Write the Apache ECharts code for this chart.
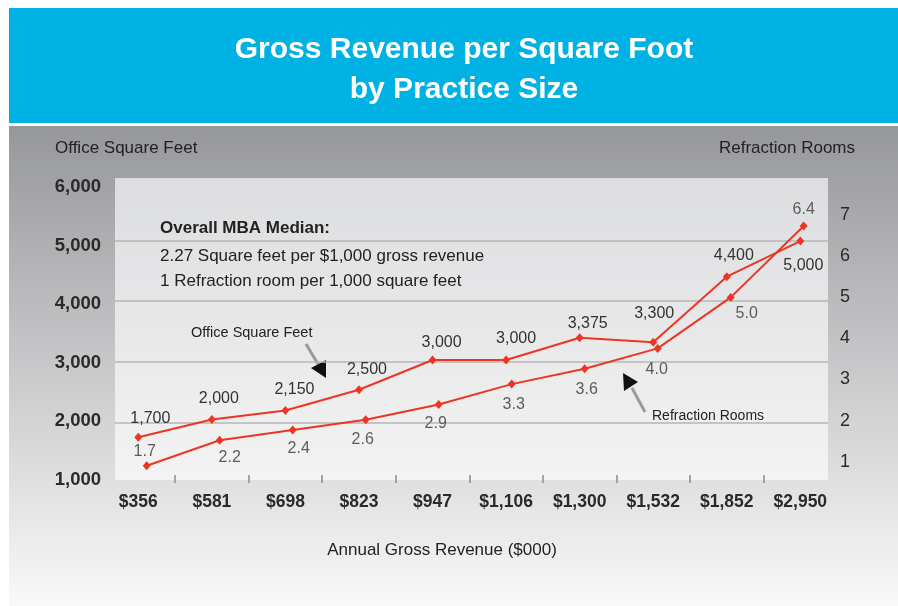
<!DOCTYPE html>
<html><head><meta charset="utf-8">
<script src="https://cdn.jsdelivr.net/npm/echarts@6/dist/echarts.min.js"></script>
<style>html,body{margin:0;padding:0;background:#fff}#c{width:898px;height:606px}</style>
</head><body><div id="c"></div>
<script>
// ---- data ----
const categories = ['$356', '$581', '$698', '$823', '$947', '$1,106', '$1,300', '$1,532', '$1,852', '$2,950'];
const officeSqFt = [1700, 2000, 2150, 2500, 3000, 3000, 3375, 3300, 4400, 5000];
const refractionRooms = [1.7, 2.2, 2.4, 2.6, 2.9, 3.3, 3.6, 4.0, 5.0, 6.4];
const leftTicks = [1000, 2000, 3000, 4000, 5000, 6000];
const rightTicks = [1, 2, 3, 4, 5, 6, 7];

// ---- label placement (style only) ----
const officeLabelPlace = [
  {p:'top',o:[12,4]},{p:'top',o:[7,2]},{p:'top',o:[9,2]},{p:'top',o:[8,2]},{p:'top',o:[9,5]},
  {p:'top',o:[10,1]},{p:'top',o:[8,8]},{p:'top',o:[1,-6]},{p:'top',o:[7,1]},{p:'bottom',o:[3,2]}
];
const roomLabelPlace = [
  {p:'top',o:[-2,6]},{p:'bottom',o:[10,-3]},{p:'bottom',o:[6,-2]},{p:'bottom',o:[-3,-1]},{p:'bottom',o:[-3,-1]},
  {p:'bottom',o:[2,0]},{p:'bottom',o:[2,0]},{p:'bottom',o:[-1,1]},{p:'bottom',o:[16,-4]},{p:'top',o:[0,4]}
];

const FONT = '"Liberation Sans", Arial, sans-serif';
const RED = '#EE3524';

const chart = echarts.init(document.getElementById('c'), null, {renderer: 'canvas'});
const G = echarts.graphic;

function buildData(values, place, color) {
  return values.map((v, i) => ({
    value: [i, v],
    label: {position: place[i].p, offset: place[i].o, color: color}
  }));
}

const option = {
  animation: false,
  backgroundColor: '#ffffff',
  title: {
    text: 'Gross Revenue per Square Foot\nby Practice Size',
    left: 459, top: 25, textAlign: 'center',
    textStyle: {color: '#ffffff', fontFamily: FONT, fontWeight: 'bold', fontSize: 30, lineHeight: 40}
  },
  graphic: [
    {type: 'rect', z: -30, silent: true, shape: {x: 9, y: 8, width: 889, height: 115}, style: {fill: '#00B2E4'}},
    {type: 'rect', z: -30, silent: true, shape: {x: 9, y: 126, width: 889, height: 480},
      style: {fill: new G.LinearGradient(0, 0, 0, 1, [{offset: 0, color: '#96979a'}, {offset: 1, color: '#f9f9f9'}])}},
    {type: 'rect', z: -20, silent: true, shape: {x: 115, y: 178, width: 713, height: 302},
      style: {fill: new G.LinearGradient(0, 0, 0, 1, [{offset: 0, color: '#dcdddf'}, {offset: 1, color: '#f3f3f3'}])}},
    {type: 'text', silent: true, style: {text: 'Office Square Feet', x: 55, y: 148, font: '17px ' + FONT, fill: '#222', align: 'left', verticalAlign: 'middle'}},
    {type: 'text', silent: true, style: {text: 'Refraction Rooms', x: 855, y: 148, font: '17px ' + FONT, fill: '#222', align: 'right', verticalAlign: 'middle'}},
    {type: 'text', silent: true, style: {text: 'Annual Gross Revenue ($000)', x: 442, y: 550, font: '17px ' + FONT, fill: '#222', align: 'center', verticalAlign: 'middle'}},
    {type: 'text', silent: true, style: {text: 'Overall MBA Median:', x: 160, y: 228, font: 'bold 17px ' + FONT, fill: '#222', align: 'left', verticalAlign: 'middle'}},
    {type: 'text', silent: true, style: {text: '2.27 Square feet per $1,000 gross revenue', x: 160, y: 256, font: '17px ' + FONT, fill: '#222', align: 'left', verticalAlign: 'middle'}},
    {type: 'text', silent: true, style: {text: '1 Refraction room per 1,000 square feet', x: 160, y: 281, font: '17px ' + FONT, fill: '#222', align: 'left', verticalAlign: 'middle'}},
    {type: 'text', silent: true, style: {text: 'Office Square Feet', x: 191, y: 333, font: '14.5px ' + FONT, fill: '#222', align: 'left', verticalAlign: 'middle'}},
    {type: 'text', silent: true, style: {text: 'Refraction Rooms', x: 652, y: 416, font: '14px ' + FONT, fill: '#222', align: 'left', verticalAlign: 'middle'}},
    // arrow for Office Square Feet
    {type: 'line', silent: true, shape: {x1: 306, y1: 344, x2: 318, y2: 364}, style: {stroke: '#9a9a9a', lineWidth: 3}},
    {type: 'polygon', silent: true, shape: {points: [[326, 378], [311, 368], [326, 360]]}, style: {fill: '#111'}},
    // arrow for Refraction Rooms
    {type: 'line', silent: true, shape: {x1: 645, y1: 412, x2: 632, y2: 388}, style: {stroke: '#9a9a9a', lineWidth: 3}},
    {type: 'polygon', silent: true, shape: {points: [[623, 373], [638, 382], [624, 391]]}, style: {fill: '#111'}}
  ],
  grid: {left: 115, right: 70, top: 180, bottom: 123, containLabel: false},
  xAxis: [
    {
      type: 'value', gridIndex: 0, min: -0.317, max: 9.376,
      axisLine: {show: false},
      splitLine: {show: false},
      axisTick: {show: true, inside: true, length: 8, lineStyle: {color: '#8c8c8c', width: 1.5},
        customValues: categories.slice(1).map((_, i) => i + 0.5)},
      axisLabel: {customValues: categories.map((_, i) => i), formatter: v => categories[Math.round(v)],
        margin: 10, fontFamily: FONT, fontWeight: 'bold', fontSize: 17.5, color: '#2a2a2a'}
    },
    {type: 'value', gridIndex: 0, min: -0.434, max: 9.333, show: false}
  ],
  yAxis: [
    { // gridline axis
      type: 'value', gridIndex: 0, position: 'left', min: leftTicks[0], max: leftTicks[leftTicks.length - 1], interval: 1000,
      axisLine: {show: false}, axisTick: {show: false}, axisLabel: {show: false},
      splitLine: {show: true, showMinLine: false, showMaxLine: false, lineStyle: {color: '#b6b6b6', width: 1.5}}
    },
    { // right labels
      type: 'value', gridIndex: 0, position: 'right', min: 0.482, max: 7.851,
      axisLine: {show: false}, axisTick: {show: false}, splitLine: {show: false},
      axisLabel: {customValues: rightTicks, formatter: v => String(v), margin: 12,
        fontFamily: FONT, fontSize: 18, color: '#2a2a2a'}
    },
    {type: 'value', gridIndex: 0, position: 'right', min: 1.361, max: 7.302, show: false},
    {type: 'value', gridIndex: 0, position: 'left', min: 932, max: 6026, show: false},
    { // left labels
      type: 'value', gridIndex: 0, position: 'left', min: 948.8, max: 6119.5,
      axisLine: {show: false}, axisTick: {show: false}, splitLine: {show: false},
      axisLabel: {customValues: leftTicks, formatter: v => v.toLocaleString('en-US'), margin: 14,
        fontFamily: FONT, fontWeight: 'bold', fontSize: 18.5, color: '#2a2a2a'}
    }
  ],
  series: [
    {
      name: 'Office Square Feet', type: 'line', xAxisIndex: 0, yAxisIndex: 3,
      data: buildData(officeSqFt, officeLabelPlace, '#333'),
      symbol: 'diamond', symbolSize: [8, 9],
      lineStyle: {color: RED, width: 2}, itemStyle: {color: RED},
      label: {show: true, distance: 10, formatter: p => p.value[1].toLocaleString('en-US'),
        fontFamily: FONT, fontSize: 16}
    },
    {
      name: 'Refraction Rooms', type: 'line', xAxisIndex: 1, yAxisIndex: 2,
      data: buildData(refractionRooms, roomLabelPlace, '#5c5c5c'),
      symbol: 'diamond', symbolSize: [8, 9],
      lineStyle: {color: RED, width: 2}, itemStyle: {color: RED},
      label: {show: true, distance: 8, formatter: p => p.value[1].toFixed(1),
        fontFamily: FONT, fontSize: 16}
    }
  ]
};
chart.setOption(option);
</script>
</body></html>
